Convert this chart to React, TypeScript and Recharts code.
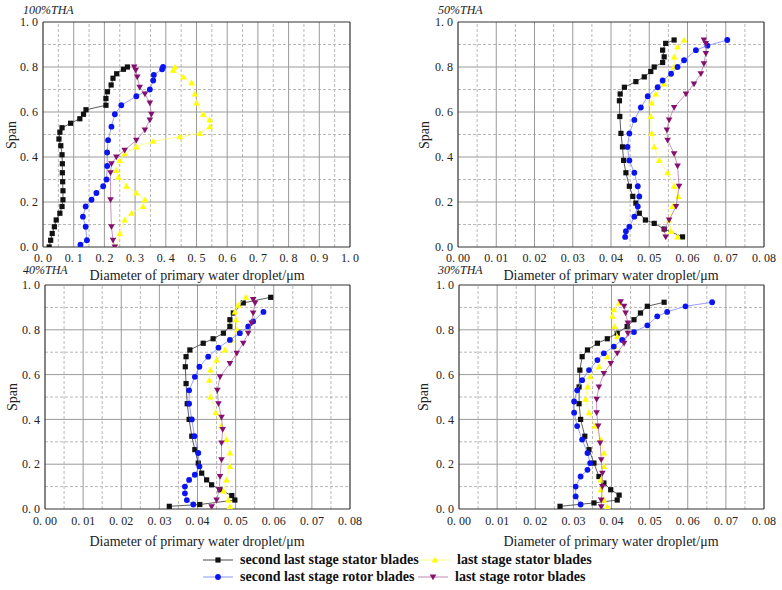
import React from 'react';
import { ScatterChart, Scatter, XAxis, YAxis, ReferenceLine } from 'recharts';

// span ticks shared by all four panels
const spanTicks = [0, 0.2, 0.4, 0.6, 0.8, 1.0];
const spanMinor = [0.1, 0.3, 0.5, 0.7, 0.9];

// 100%THA uses a 0..1 axis, the rest 0..0.08
const ticksWide = [0, 0.1, 0.2, 0.3, 0.4, 0.5, 0.6, 0.7, 0.8, 0.9, 1.0];
const minorWide = [0.05, 0.15, 0.25, 0.35, 0.45, 0.55, 0.65, 0.75, 0.85, 0.95];
const ticksFine = [0, 0.01, 0.02, 0.03, 0.04, 0.05, 0.06, 0.07, 0.08];
const minorFine = [0.005, 0.015, 0.025, 0.035, 0.045, 0.055, 0.065, 0.075];

const seriesNames = [
  'second last stage stator blades',
  'last stage stator blades',
  'second last stage rotor blades',
  'last stage rotor blades',
];

// [span, diameter]
const t100Stator2: [number, number][] = [
  [0.0, 0.02], [0.03, 0.025], [0.06, 0.03], [0.09, 0.037], [0.12, 0.043], [0.15, 0.055],
  [0.18, 0.062], [0.21, 0.065], [0.25, 0.065], [0.29, 0.064], [0.33, 0.063], [0.37, 0.063],
  [0.41, 0.062], [0.45, 0.058], [0.48, 0.052], [0.51, 0.055], [0.53, 0.062], [0.55, 0.09],
  [0.57, 0.12], [0.59, 0.132], [0.61, 0.14], [0.63, 0.205], [0.66, 0.205], [0.69, 0.21],
  [0.72, 0.222], [0.75, 0.228], [0.77, 0.24], [0.79, 0.262], [0.8, 0.275],
];
const t100Stator: [number, number][] = [
  [0.0, 0.239], [0.06, 0.25], [0.12, 0.266], [0.15, 0.288], [0.18, 0.326], [0.21, 0.332],
  [0.24, 0.304], [0.27, 0.272], [0.31, 0.245], [0.34, 0.239], [0.385, 0.25], [0.415, 0.266],
  [0.445, 0.304], [0.47, 0.359], [0.49, 0.446], [0.505, 0.511], [0.535, 0.543], [0.565, 0.543],
  [0.59, 0.522], [0.64, 0.5], [0.68, 0.495], [0.73, 0.484], [0.756, 0.457], [0.786, 0.424],
  [0.8, 0.43],
];
const t100Rotor2: [number, number][] = [
  [0.01, 0.122], [0.03, 0.143], [0.09, 0.139], [0.135, 0.13], [0.18, 0.139], [0.21, 0.158],
  [0.24, 0.174], [0.27, 0.196], [0.3, 0.207], [0.36, 0.209], [0.42, 0.209], [0.475, 0.212],
  [0.535, 0.223], [0.59, 0.234], [0.63, 0.255], [0.67, 0.304], [0.7, 0.348], [0.74, 0.359],
  [0.765, 0.361], [0.79, 0.388], [0.8, 0.391],
];
const t100Rotor: [number, number][] = [
  [0.0, 0.234], [0.03, 0.228], [0.09, 0.223], [0.21, 0.22], [0.33, 0.22], [0.37, 0.223],
  [0.4, 0.239], [0.43, 0.266], [0.475, 0.304], [0.52, 0.332], [0.565, 0.348], [0.59, 0.353],
  [0.64, 0.348], [0.68, 0.332], [0.71, 0.315], [0.756, 0.307], [0.786, 0.302], [0.8, 0.297],
];

const t50Stator2: [number, number][] = [
  [0.045, 0.0587], [0.08, 0.0539], [0.105, 0.0513], [0.12, 0.049], [0.15, 0.0474], [0.195, 0.0465],
  [0.225, 0.0457], [0.27, 0.0448], [0.33, 0.0439], [0.385, 0.0433], [0.445, 0.043], [0.505, 0.0426],
  [0.58, 0.0423], [0.65, 0.0422], [0.68, 0.0424], [0.71, 0.0435], [0.735, 0.0465], [0.756, 0.0487],
  [0.78, 0.0504], [0.8, 0.0513], [0.82, 0.0535], [0.845, 0.0539], [0.875, 0.0535], [0.905, 0.0543],
  [0.92, 0.0565],
];
const t50Stator: [number, number][] = [
  [0.045, 0.0574], [0.07, 0.0557], [0.12, 0.0552], [0.18, 0.0561], [0.225, 0.0576], [0.27, 0.0565],
  [0.33, 0.0548], [0.385, 0.0526], [0.445, 0.0513], [0.505, 0.0506], [0.58, 0.0504], [0.64, 0.0506],
  [0.68, 0.0517], [0.725, 0.0539], [0.77, 0.0557], [0.8, 0.0565], [0.845, 0.0565], [0.89, 0.0574],
  [0.92, 0.0591],
];
const t50Rotor2: [number, number][] = [
  [0.045, 0.0437], [0.07, 0.0439], [0.09, 0.0448], [0.135, 0.0461], [0.18, 0.047], [0.225, 0.0474],
  [0.27, 0.047], [0.33, 0.0461], [0.385, 0.0448], [0.445, 0.0443], [0.505, 0.0448], [0.565, 0.0461],
  [0.62, 0.0478], [0.67, 0.0496], [0.71, 0.0522], [0.74, 0.0535], [0.77, 0.0557], [0.8, 0.0574],
  [0.83, 0.0591], [0.875, 0.0622], [0.895, 0.0652], [0.92, 0.0704],
];
const t50Rotor: [number, number][] = [
  [0.045, 0.0543], [0.077, 0.0539], [0.12, 0.0552], [0.18, 0.057], [0.27, 0.0578], [0.36, 0.0574],
  [0.415, 0.0565], [0.475, 0.0548], [0.52, 0.0546], [0.565, 0.0552], [0.62, 0.0565], [0.68, 0.0596],
  [0.725, 0.0617], [0.77, 0.0635], [0.815, 0.0643], [0.86, 0.0648], [0.905, 0.0648], [0.92, 0.0643],
];

const t40Stator2: [number, number][] = [
  [0.012, 0.0326], [0.02, 0.0406], [0.04, 0.0498], [0.06, 0.049], [0.086, 0.0459], [0.108, 0.0437],
  [0.13, 0.0424], [0.16, 0.0411], [0.205, 0.0402], [0.265, 0.0393], [0.325, 0.0385], [0.4, 0.0378],
  [0.47, 0.0373], [0.56, 0.037], [0.635, 0.0368], [0.68, 0.037], [0.71, 0.038], [0.74, 0.0415],
  [0.76, 0.0441], [0.785, 0.0468], [0.815, 0.0485], [0.845, 0.0485], [0.875, 0.0494], [0.92, 0.052],
  [0.945, 0.0592],
];
const t40Stator: [number, number][] = [
  [0.01, 0.0485], [0.04, 0.0481], [0.08, 0.0468], [0.13, 0.0476], [0.19, 0.0485], [0.25, 0.0485],
  [0.31, 0.0476], [0.37, 0.0463], [0.43, 0.0448], [0.5, 0.0434], [0.575, 0.0431], [0.62, 0.0434],
  [0.665, 0.045], [0.71, 0.0472], [0.755, 0.049], [0.8, 0.0504], [0.845, 0.0501], [0.88, 0.0498],
  [0.91, 0.0507], [0.945, 0.0527],
];
const t40Rotor2: [number, number][] = [
  [0.02, 0.0389], [0.04, 0.0372], [0.07, 0.0367], [0.1, 0.0367], [0.13, 0.0378], [0.153, 0.0393],
  [0.19, 0.0405], [0.25, 0.0402], [0.325, 0.0392], [0.4, 0.0385], [0.47, 0.0378], [0.53, 0.0378],
  [0.59, 0.0393], [0.635, 0.0405], [0.68, 0.0428], [0.72, 0.0455], [0.755, 0.0485], [0.785, 0.0511],
  [0.815, 0.0533], [0.837, 0.0546], [0.88, 0.0573],
];
const t40Rotor: [number, number][] = [
  [0.01, 0.0437], [0.04, 0.045], [0.086, 0.0457], [0.145, 0.0459], [0.22, 0.0463], [0.295, 0.0463],
  [0.355, 0.0466], [0.41, 0.0463], [0.47, 0.0455], [0.53, 0.0452], [0.59, 0.0459], [0.65, 0.0485],
  [0.695, 0.0503], [0.74, 0.052], [0.785, 0.0533], [0.83, 0.0542], [0.875, 0.0546], [0.92, 0.0551],
  [0.935, 0.0546],
];

const t30Stator2: [number, number][] = [
  [0.012, 0.0265], [0.027, 0.0354], [0.04, 0.0415], [0.062, 0.042], [0.086, 0.0398], [0.116, 0.038],
  [0.145, 0.0367], [0.205, 0.0354], [0.265, 0.0341], [0.325, 0.033], [0.4, 0.0319], [0.47, 0.0315],
  [0.545, 0.0315], [0.62, 0.0317], [0.68, 0.0323], [0.71, 0.0337], [0.74, 0.0363], [0.76, 0.0389],
  [0.785, 0.0415], [0.815, 0.0441], [0.845, 0.0459], [0.875, 0.0476], [0.905, 0.0494], [0.923, 0.0538],
];
const t30Stator: [number, number][] = [
  [0.01, 0.0389], [0.04, 0.038], [0.086, 0.0372], [0.13, 0.0372], [0.19, 0.038], [0.25, 0.038],
  [0.31, 0.0372], [0.37, 0.0356], [0.43, 0.0341], [0.49, 0.0332], [0.545, 0.0337], [0.59, 0.0344],
  [0.635, 0.0367], [0.68, 0.0389], [0.725, 0.0408], [0.77, 0.0415], [0.815, 0.0408], [0.86, 0.0402],
  [0.89, 0.0406], [0.92, 0.042],
];
const t30Rotor2: [number, number][] = [
  [0.02, 0.0319], [0.056, 0.0306], [0.1, 0.0306], [0.145, 0.0319], [0.175, 0.0337], [0.205, 0.0344],
  [0.25, 0.0337], [0.31, 0.0323], [0.37, 0.031], [0.43, 0.0302], [0.48, 0.0302], [0.53, 0.031],
  [0.575, 0.0323], [0.62, 0.0341], [0.665, 0.0363], [0.695, 0.038], [0.725, 0.0406], [0.755, 0.0428],
  [0.79, 0.0459], [0.82, 0.0494], [0.86, 0.052], [0.88, 0.0546], [0.905, 0.0594], [0.923, 0.0664],
];
const t30Rotor: [number, number][] = [
  [0.01, 0.0373], [0.04, 0.0373], [0.1, 0.0376], [0.16, 0.0376], [0.22, 0.0373], [0.295, 0.037],
  [0.37, 0.0365], [0.43, 0.0361], [0.49, 0.0361], [0.545, 0.0367], [0.605, 0.038], [0.65, 0.0398],
  [0.695, 0.0415], [0.74, 0.0433], [0.785, 0.0443], [0.83, 0.0443], [0.875, 0.0437], [0.905, 0.0433],
  [0.925, 0.0424],
];

const FONT = '"Liberation Serif", "Times New Roman", serif';

const styles = [
  { kind: 'square', fill: '#111111', line: '#333333' },
  { kind: 'up', fill: '#ffff00', line: '#ffff70' },
  { kind: 'circle', fill: '#0a14f0', line: '#7c86ff' },
  { kind: 'down', fill: '#85116f', line: '#b77aaa' },
];

const Marker = ({ cx, cy, kind, fill }: any) => {
  if (cx == null || cy == null) return null;
  if (kind === 'square') return <rect x={cx - 2.6} y={cy - 2.6} width={5.2} height={5.2} fill={fill} />;
  if (kind === 'circle') return <circle cx={cx} cy={cy} r={2.9} fill={fill} />;
  if (kind === 'up')
    return <polygon points={`${cx},${cy - 3.3} ${cx + 3.3},${cy + 2.5} ${cx - 3.3},${cy + 2.5}`} fill={fill} />;
  return <polygon points={`${cx},${cy + 3.3} ${cx + 3.3},${cy - 2.5} ${cx - 3.3},${cy - 2.5}`} fill={fill} />;
};

const toPoints = (arr: [number, number][]) => arr.map(([s, d]) => ({ s, d }));
const fmt = (digits: number) => (v: number) => v.toFixed(digits).replace('.', '. ');

const panels = [
  { title: '100%THA', series: [t100Stator2, t100Stator, t100Rotor2, t100Rotor], ticks: ticksWide, minor: minorWide, digits: 1, left: 0, top: 0, yw: 43 },
  { title: '50%THA', series: [t50Stator2, t50Stator, t50Rotor2, t50Rotor], ticks: ticksFine, minor: minorFine, digits: 2, left: 391, top: 0, yw: 67 },
  { title: '40%THA', series: [t40Stator2, t40Stator, t40Rotor2, t40Rotor], ticks: ticksFine, minor: minorFine, digits: 2, left: 0, top: 262, yw: 45 },
  { title: '30%THA', series: [t30Stator2, t30Stator, t30Rotor2, t30Rotor], ticks: ticksFine, minor: minorFine, digits: 2, left: 391, top: 262, yw: 68 },
];

const Panel = ({ p, bottomRow }: any) => {
  const xMax = p.ticks[p.ticks.length - 1];
  const tickStyle = { fontSize: 12, fontFamily: FONT, fill: '#222' };
  return (
    <div style={{ position: 'absolute', left: p.left, top: p.top }}>
      <ScatterChart width={391} height={280} margin={{ top: bottomRow ? 23 : 22, right: 18 + (p.left === 0 ? 23 : 0), bottom: 13, left: 0 }}>
        <XAxis
          type="number"
          dataKey="d"
          domain={[0, xMax]}
          ticks={p.ticks}
          interval={0}
          allowDataOverflow
          tickFormatter={fmt(p.digits)}
          tick={tickStyle}
          tickLine={false}
          tickSize={0}
          tickMargin={bottomRow ? 7 : 6}
          height={20}
          axisLine={{ stroke: '#333', strokeWidth: 1.2 }}
        />
        <YAxis
          type="number"
          dataKey="s"
          domain={[0, 1]}
          ticks={spanTicks}
          interval={0}
          allowDataOverflow
          tickFormatter={fmt(1)}
          tick={tickStyle}
          tickLine={false}
          tickSize={0}
          tickMargin={5}
          width={p.yw}
          axisLine={{ stroke: '#333', strokeWidth: 1.2 }}
        />
        {p.minor.map((v: number) => (
          <ReferenceLine key={'xm' + v} x={v} stroke="#b8b8b8" strokeDasharray="3 2" zIndex={-50} />
        ))}
        {p.ticks.slice(1, -1).map((v: number) => (
          <ReferenceLine key={'xt' + v} x={v} stroke="#9a9a9a" zIndex={-40} />
        ))}
        {spanMinor.map((v) => (
          <ReferenceLine key={'ym' + v} y={v} stroke="#b8b8b8" strokeDasharray="3 2" zIndex={-50} />
        ))}
        {spanTicks.slice(1, -1).map((v) => (
          <ReferenceLine key={'yt' + v} y={v} stroke="#9a9a9a" zIndex={-40} />
        ))}
        <ReferenceLine x={xMax} stroke="#333" strokeWidth={1.2} zIndex={-30} />
        <ReferenceLine y={1} stroke="#333" strokeWidth={1.2} zIndex={-30} />
        {p.series.map((arr: [number, number][], i: number) => (
          <Scatter
            key={seriesNames[i]}
            name={seriesNames[i]}
            data={toPoints(arr)}
            isAnimationActive={false}
            line={{ stroke: styles[i].line, strokeWidth: 0.8 }}
            shape={(props: any) => <Marker {...props} kind={styles[i].kind} fill={styles[i].fill} />}
          />
        ))}
      </ScatterChart>
    </div>
  );
};

const LegendItem = ({ i, left, top, markerX }: any) => (
  <div style={{ position: 'absolute', left, top, height: 16, display: 'flex', alignItems: 'center' }}>
    <svg width={30} height={16}>
      <line x1={0} y1={8} x2={30} y2={8} stroke={styles[i].line} strokeWidth={0.9} />
      <Marker cx={markerX} cy={8} kind={styles[i].kind} fill={styles[i].fill} />
    </svg>
    <span style={{ marginLeft: 7, fontFamily: FONT, fontWeight: 'bold', fontSize: 14, color: '#111', whiteSpace: 'nowrap' }}>
      {seriesNames[i]}
    </span>
  </div>
);

const App = () => {
  const textStyle = { fontFamily: FONT, fill: '#222' };
  return (
    <div style={{ position: 'absolute', left: 0, top: 0, width: 782, height: 590, background: '#fff', overflow: 'hidden' }}>
      {panels.map((p, k) => (
        <Panel key={p.title} p={p} bottomRow={k > 1} />
      ))}
      <svg width={782} height={590} style={{ position: 'absolute', left: 0, top: 0, pointerEvents: 'none' }}>
        {[
          { t: '100%THA', x: 23, y: 10 },
          { t: '50%THA', x: 438, y: 10 },
          { t: '40%THA', x: 23, y: 270 },
          { t: '30%THA', x: 438, y: 270 },
        ].map((o) => (
          <text key={o.t} x={o.x} y={o.y} dominantBaseline="central" fontSize={12} fontStyle="italic" {...textStyle}>
            {o.t}
          </text>
        ))}
        {[
          { x: 11, y: 135 },
          { x: 424, y: 135 },
          { x: 12, y: 397 },
          { x: 423, y: 397 },
        ].map((o, k) => (
          <text key={'span' + k} x={o.x} y={o.y} transform={`rotate(-90 ${o.x} ${o.y})`} textAnchor="middle" dominantBaseline="central" fontSize={14} {...textStyle}>
            Span
          </text>
        ))}
        {[
          { x: 197, y: 275 },
          { x: 611, y: 275 },
          { x: 197, y: 541 },
          { x: 611, y: 541 },
        ].map((o, k) => (
          <text key={'xt' + k} x={o.x} y={o.y} textAnchor="middle" dominantBaseline="central" fontSize={14} {...textStyle}>
            Diameter of primary water droplet/μm
          </text>
        ))}
      </svg>
      <LegendItem i={0} left={203} top={552} markerX={15} />
      <LegendItem i={1} left={420} top={552} markerX={15} />
      <LegendItem i={2} left={203} top={569} markerX={15} />
      <LegendItem i={3} left={418} top={569} markerX={15} />
    </div>
  );
};

export default App;
